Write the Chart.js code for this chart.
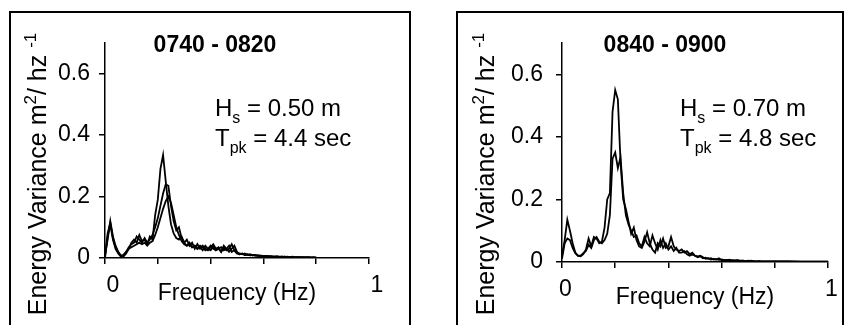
<!DOCTYPE html>
<html>
<head>
<meta charset="utf-8">
<script src="https://cdn.jsdelivr.net/npm/chart.js@4.4.1/dist/chart.umd.min.js"></script>
<style>
  html, body { margin: 0; padding: 0; background: #fff; }
  body { width: 847px; height: 325px; position: relative; overflow: hidden; }
  .frame { position: absolute; border: 2px solid #000; border-bottom: none; box-sizing: border-box; }
  canvas { position: absolute; left: 0; top: 0; }
</style>
</head>
<body>
<div class="frame" style="left:9px; top:11px; width:402px; height:330px;"></div>
<div class="frame" style="left:456px; top:11px; width:388px; height:330px;"></div>
<canvas id="left" width="847" height="325"></canvas>
<canvas id="right" width="847" height="325"></canvas>
<script>
// --- data ---
const titles = ['0740 - 0820', '0840 - 0900'];
const waveHeights = ['0.50 m', '0.70 m'];
const peakPeriods = ['4.4 sec', '4.8 sec'];
const xTickLabels = ['0', '1'];
const yTickValues = [0, 0.2, 0.4, 0.6];

const freqLeft = [0.00, 0.01, 0.02, 0.03, 0.04, 0.05, 0.06, 0.07, 0.08, 0.09,
  0.10, 0.11, 0.12, 0.13, 0.14, 0.15, 0.16, 0.17, 0.18, 0.19,
  0.20, 0.21, 0.22, 0.23, 0.24, 0.25, 0.26, 0.27, 0.28, 0.29,
  0.30, 0.31, 0.32, 0.33, 0.34, 0.35, 0.36, 0.37, 0.38, 0.39,
  0.40, 0.41, 0.42, 0.43, 0.44, 0.45, 0.46, 0.47, 0.48, 0.49,
  0.50, 0.51, 0.52, 0.53, 0.54, 0.55, 0.56, 0.57, 0.58, 0.59,
  0.60, 0.61, 0.62, 0.63, 0.64, 0.65, 0.66, 0.67, 0.68, 0.69,
  0.70, 0.71, 0.72, 0.73, 0.74, 0.75, 0.76, 0.77, 0.78, 0.79, 0.80];

const left1 = [0.010, 0.060, 0.120, 0.070, 0.040, 0.020, 0.006, 0.005, 0.015, 0.030,
  0.050, 0.060, 0.050, 0.075, 0.055, 0.060, 0.045, 0.070, 0.060, 0.140,
  0.190, 0.290, 0.335, 0.250, 0.170, 0.110, 0.080, 0.065, 0.060, 0.070,
  0.050, 0.040, 0.050, 0.035, 0.040, 0.030, 0.035, 0.025, 0.040, 0.030,
  0.025, 0.040, 0.025, 0.030, 0.020, 0.035, 0.025, 0.030, 0.045, 0.025,
  0.015, 0.015, 0.012, 0.015, 0.010, 0.012, 0.008, 0.010, 0.007, 0.008,
  0.006, 0.007, 0.005, 0.006, 0.004, 0.005, 0.004, 0.005, 0.003, 0.004,
  0.003, 0.004, 0.003, 0.003, 0.002, 0.003, 0.002, 0.003, 0.002, 0.002, 0.001];

const left2 = [0.005, 0.080, 0.115, 0.065, 0.035, 0.020, 0.008, 0.010, 0.020, 0.035,
  0.045, 0.050, 0.070, 0.060, 0.050, 0.065, 0.050, 0.060, 0.075, 0.100,
  0.130, 0.170, 0.210, 0.240, 0.235, 0.170, 0.120, 0.090, 0.100, 0.065,
  0.050, 0.060, 0.040, 0.050, 0.030, 0.045, 0.030, 0.040, 0.030, 0.025,
  0.035, 0.045, 0.030, 0.035, 0.020, 0.040, 0.030, 0.020, 0.030, 0.040,
  0.020, 0.012, 0.015, 0.010, 0.012, 0.009, 0.010, 0.008, 0.009, 0.006,
  0.007, 0.005, 0.006, 0.004, 0.005, 0.004, 0.004, 0.003, 0.004, 0.003,
  0.003, 0.003, 0.002, 0.003, 0.002, 0.002, 0.002, 0.002, 0.001, 0.002, 0.001];

const left3 = [0.000, 0.070, 0.110, 0.060, 0.030, 0.015, 0.005, 0.008, 0.020, 0.030,
  0.035, 0.040, 0.045, 0.050, 0.045, 0.050, 0.040, 0.050, 0.055, 0.075,
  0.100, 0.130, 0.160, 0.185, 0.200, 0.180, 0.140, 0.100, 0.075, 0.055,
  0.045, 0.040, 0.045, 0.035, 0.040, 0.030, 0.040, 0.035, 0.025, 0.030,
  0.040, 0.030, 0.025, 0.030, 0.035, 0.025, 0.030, 0.040, 0.020, 0.025,
  0.015, 0.012, 0.014, 0.010, 0.012, 0.009, 0.010, 0.008, 0.007, 0.008,
  0.006, 0.006, 0.005, 0.005, 0.004, 0.005, 0.004, 0.003, 0.004, 0.003,
  0.003, 0.003, 0.002, 0.002, 0.003, 0.002, 0.002, 0.002, 0.001, 0.001, 0.001];

const freqRight = [0.00, 0.01, 0.02, 0.03, 0.04, 0.05, 0.06, 0.07, 0.08, 0.09,
  0.10, 0.11, 0.12, 0.13, 0.14, 0.15, 0.16, 0.17, 0.18, 0.19,
  0.20, 0.21, 0.22, 0.23, 0.24, 0.25, 0.26, 0.27, 0.28, 0.29,
  0.30, 0.31, 0.32, 0.33, 0.34, 0.35, 0.36, 0.37, 0.38, 0.39,
  0.40, 0.41, 0.42, 0.43, 0.44, 0.45, 0.46, 0.47, 0.48, 0.49,
  0.50, 0.51, 0.52, 0.53, 0.54, 0.55, 0.56, 0.57, 0.58, 0.59,
  0.60, 0.61, 0.62, 0.63, 0.64, 0.65, 0.66, 0.67, 0.68, 0.69,
  0.70, 0.71, 0.72, 0.73, 0.74, 0.75, 0.76, 0.77, 0.78, 0.79, 0.80,
  0.85, 0.90, 0.95, 1.00];

const right1 = [0.020, 0.070, 0.135, 0.100, 0.060, 0.030, 0.020, 0.018, 0.025, 0.040,
  0.075, 0.050, 0.080, 0.075, 0.060, 0.065, 0.110, 0.200, 0.220, 0.480,
  0.550, 0.520, 0.320, 0.200, 0.170, 0.130, 0.090, 0.110, 0.070, 0.050,
  0.045, 0.065, 0.095, 0.060, 0.040, 0.030, 0.060, 0.050, 0.075, 0.045,
  0.050, 0.080, 0.050, 0.040, 0.035, 0.040, 0.030, 0.035, 0.025, 0.030,
  0.020, 0.018, 0.020, 0.015, 0.010, 0.012, 0.008, 0.010, 0.008, 0.012,
  0.006, 0.006, 0.005, 0.007, 0.004, 0.005, 0.006, 0.003, 0.004, 0.003,
  0.003, 0.004, 0.003, 0.002, 0.003, 0.002, 0.002, 0.002, 0.002, 0.002, 0.002,
  0.002, 0.001, 0.001, 0.001];

const right2 = [0.010, 0.060, 0.075, 0.070, 0.045, 0.028, 0.020, 0.020, 0.028, 0.035,
  0.055, 0.045, 0.070, 0.080, 0.065, 0.060, 0.070, 0.090, 0.150, 0.330,
  0.350, 0.300, 0.335, 0.220, 0.150, 0.120, 0.100, 0.080, 0.085, 0.060,
  0.050, 0.080, 0.060, 0.050, 0.085, 0.060, 0.040, 0.070, 0.045, 0.060,
  0.040, 0.050, 0.035, 0.045, 0.030, 0.030, 0.035, 0.025, 0.020, 0.025,
  0.020, 0.015, 0.018, 0.012, 0.014, 0.010, 0.012, 0.008, 0.009, 0.007,
  0.008, 0.006, 0.007, 0.005, 0.006, 0.004, 0.005, 0.004, 0.004, 0.003,
  0.004, 0.003, 0.003, 0.002, 0.003, 0.002, 0.002, 0.002, 0.002, 0.002, 0.002,
  0.002, 0.001, 0.001, 0.001];

// --- drawing ---
const FONT = "'Liberation Sans', Arial, Helvetica, sans-serif";

// draws text pieces with sub/superscripts, kind: 'n' | 'sub' | 'sup'
function drawRich(ctx, parts, x, y, size, align) {
  const small = Math.round(size * 0.68);
  const widths = parts.map(([t, k]) => {
    ctx.font = (k === 'n' ? size : small) + 'px ' + FONT;
    return ctx.measureText(t).width;
  });
  const total = widths.reduce((a, b) => a + b, 0);
  let cx = align === 'center' ? x - total / 2 : x;
  parts.forEach(([t, k], i) => {
    ctx.font = (k === 'n' ? size : small) + 'px ' + FONT;
    const dy = k === 'sub' ? size * 0.28 : (k === 'sup' ? -size * 0.4 : 0);
    ctx.fillText(t, cx, y + dy);
    cx += widths[i];
  });
}

const yTitleParts = [['Energy Variance m', 'n'], ['2', 'sup'], ['/ hz ', 'n'], ['-1', 'sup']];

const panelText = {
  id: 'panelText',
  afterDraw(chart, args, o) {
    const ctx = chart.ctx;
    ctx.save();
    ctx.fillStyle = '#000';
    ctx.textBaseline = 'alphabetic';
    ctx.font = 'bold 23px ' + FONT;
    ctx.textAlign = 'center';
    ctx.fillText(titles[o.idx], o.titleX, o.titleY);
    ctx.textAlign = 'left';
    drawRich(ctx, [['H', 'n'], ['s', 'sub'], [' = ' + waveHeights[o.idx], 'n']], o.noteX, o.noteY1, 24, 'left');
    drawRich(ctx, [['T', 'n'], ['pk', 'sub'], [' = ' + peakPeriods[o.idx], 'n']], o.noteX, o.noteY2, 24, 'left');
    ctx.translate(o.yTitleX, o.yTitleY);
    ctx.rotate(-Math.PI / 2);
    drawRich(ctx, yTitleParts, 0, 0, 25, 'center');
    ctx.restore();
  }
};

function makeChart(id, freq, series, o) {
  const ctx = document.getElementById(id).getContext('2d');
  return new Chart(ctx, {
    type: 'line',
    data: {
      datasets: series.map(s => ({
        data: freq.map((f, i) => ({ x: f, y: s[i] })),
        borderColor: '#000',
        borderWidth: 1.8,
        pointRadius: 0,
        tension: 0,
        fill: false
      }))
    },
    options: {
      responsive: false,
      animation: false,
      events: [],
      layout: { padding: o.padding },
      plugins: {
        legend: { display: false },
        tooltip: { enabled: false },
        panelText: o.text
      },
      scales: {
        x: {
          type: 'linear', min: 0, max: 1,
          afterFit(s) { s.height = 50; },
          border: { display: true, color: '#000', width: 1.5 },
          grid: { drawOnChartArea: false, drawTicks: true, tickLength: 6, color: '#000', lineWidth: 1.5 },
          ticks: {
            stepSize: 0.2, autoSkip: false, maxRotation: 0, color: '#000',
            font: { family: FONT, size: 23 }, padding: 8, labelOffset: o.labelOffset,
            callback: v => Math.abs(v) < 1e-9 ? xTickLabels[0] : (Math.abs(v - 1) < 1e-9 ? xTickLabels[1] : '')
          },
          title: { display: true, text: 'Frequency (Hz)', color: '#000', font: { family: FONT, size: 23 }, padding: { top: 0, bottom: 1 } }
        },
        y: {
          min: 0, max: 0.7,
          afterFit(s) { s.width = 60; },
          afterBuildTicks(s) { s.ticks = yTickValues.map(v => ({ value: v })); },
          border: { display: true, color: '#000', width: 1.5 },
          grid: { drawOnChartArea: false, drawTicks: true, tickLength: 6, color: '#000', lineWidth: 1.5 },
          ticks: {
            color: '#000', font: { family: FONT, size: 23 }, padding: o.yPad,
            callback: v => v === 0 ? '0' : v.toFixed(1)
          }
        }
      }
    },
    plugins: [panelText]
  });
}

makeChart('left', freqLeft, [left1, left2, left3], {
  padding: { left: 45, right: 478, top: 43, bottom: 17 },
  labelOffset: 8, yPad: 9,
  text: { idx: 0, titleX: 215, titleY: 52, noteX: 215, noteY1: 116, noteY2: 146, yTitleX: 46, yTitleY: 174 }
});

makeChart('right', freqRight, [right1, right2], {
  padding: { left: 502, right: 19, top: 43, bottom: 13 },
  labelOffset: 3.5, yPad: 13,
  text: { idx: 1, titleX: 665, titleY: 52, noteX: 680, noteY1: 116, noteY2: 146, yTitleX: 494, yTitleY: 174 }
});
</script>
</body>
</html>
